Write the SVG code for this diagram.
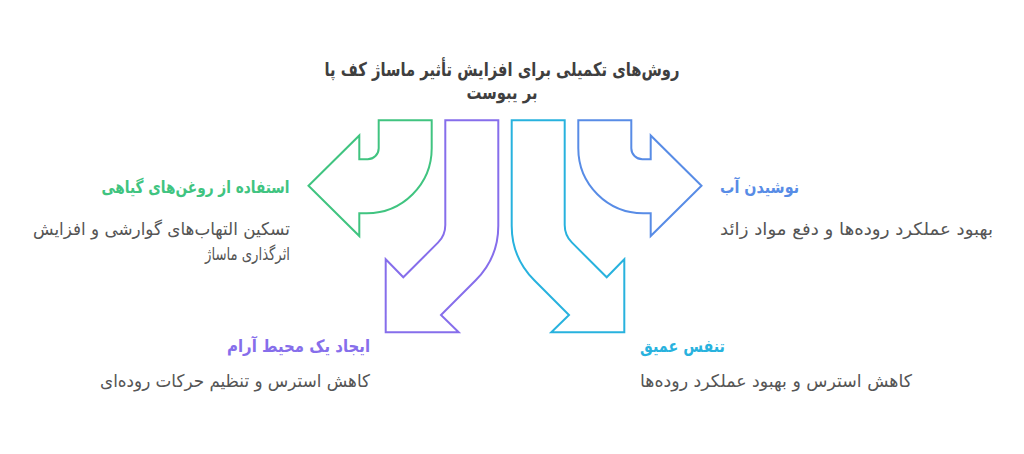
<svg xmlns="http://www.w3.org/2000/svg" width="1024" height="454" viewBox="0 0 1024 454">
<style>
.t{font-family:"DejaVu Sans","Noto Sans",sans-serif;}
.title{font-size:19px;font-weight:bold;fill:#3f3f3f;}
.h{font-size:17px;font-weight:bold;}
.d{font-size:17.5px;fill:#555555;}
.arrow{stroke-width:2;fill:#ffffff;stroke-linejoin:miter;}
</style>
<rect width="1024" height="454" fill="#ffffff"/>
<g id="title">
<text class="t title" x="502" y="76" text-anchor="middle" textLength="355" lengthAdjust="spacingAndGlyphs">روش&#8204;های تکمیلی برای افزایش تأثیر ماساژ کف پا</text>
<text class="t title" x="502" y="99" text-anchor="middle" textLength="71" lengthAdjust="spacingAndGlyphs">بر یبوست</text>
</g>
<g id="connectors">
<path id="arrow-green" class="arrow" stroke="#40C480" d="M 378.7 120.3 H 431.7 V 148.3 A 65 65 0 0 1 366.7 213.3 H 359.3 V 236 L 308.5 185.8 L 359.3 135.5 V 159.3 H 367.7 A 11 11 0 0 0 378.7 148.3 Z"/>
<path id="arrow-purple" class="arrow" stroke="#866EEB" d="M 445.3 120.3 H 498.3 V 225.7 Q 498.3 257.7 475.7 280.3 L 441 315 L 458.7 332.3 H 385.7 V 259.3 L 403.3 277.3 L 438.2 242.4 Q 445.3 235.3 445.3 225 Z"/>
<path id="arrow-cyan" class="arrow" stroke="#28B2DE" d="M 564.7 120.3 H 511.7 V 225.7 Q 511.7 257.7 534.3 280.3 L 569 315 L 551.3 332.3 H 624.3 V 259.3 L 606.7 277.3 L 571.8 242.4 Q 564.7 235.3 564.7 225 Z"/>
<path id="arrow-blue" class="arrow" stroke="#588CE6" d="M 631.3 120.3 H 578.3 V 148.3 A 65 65 0 0 0 643.3 213.3 H 650.7 V 236 L 701.5 185.8 L 650.7 135.5 V 159.3 H 642.3 A 11 11 0 0 1 631.3 148.3 Z"/>
</g>
<g id="node-oils">
<text class="t h" x="289.5" y="193" text-anchor="end" fill="#40C480" textLength="188" lengthAdjust="spacingAndGlyphs">استفاده از روغن&#8204;های گیاهی</text>
<text class="t d" x="290" y="235" text-anchor="end" textLength="257" lengthAdjust="spacingAndGlyphs">تسکین التهاب&#8204;های گوارشی و افزایش</text>
<text class="t d" x="290" y="260" text-anchor="end" textLength="85" lengthAdjust="spacingAndGlyphs">اثرگذاری ماساژ</text>
</g>
<g id="node-water">
<text class="t h" x="720" y="193" text-anchor="start" fill="#588CE6" textLength="79" lengthAdjust="spacingAndGlyphs">نوشیدن آب</text>
<text class="t d" x="720" y="235" text-anchor="start" textLength="273" lengthAdjust="spacingAndGlyphs">بهبود عملکرد روده&#8204;ها و دفع مواد زائد</text>
</g>
<g id="node-calm">
<text class="t h" x="370" y="352" text-anchor="end" fill="#866EEB" textLength="143" lengthAdjust="spacingAndGlyphs">ایجاد یک محیط آرام</text>
<text class="t d" x="370" y="387" text-anchor="end" textLength="270" lengthAdjust="spacingAndGlyphs">کاهش استرس و تنظیم حرکات روده&#8204;ای</text>
</g>
<g id="node-breath">
<text class="t h" x="640" y="352" text-anchor="start" fill="#28B2DE" textLength="85" lengthAdjust="spacingAndGlyphs">تنفس عمیق</text>
<text class="t d" x="640" y="387" text-anchor="start" textLength="272" lengthAdjust="spacingAndGlyphs">کاهش استرس و بهبود عملکرد روده&#8204;ها</text>
</g>
</svg>
